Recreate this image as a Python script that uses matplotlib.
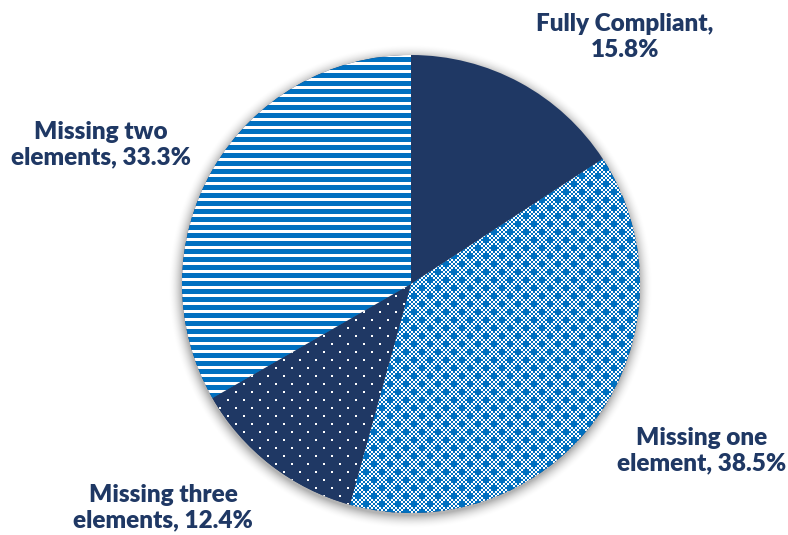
import numpy as np
import matplotlib
matplotlib.use("Agg")
import matplotlib.pyplot as plt

# Compliance breakdown
categories = ["Fully Compliant", "Missing one element", "Missing three elements", "Missing two elements"]
shares = [15.8, 38.5, 12.4, 33.3]
label_fmt = ["Fully Compliant,\n{:.1f}%",
             "Missing one\nelement, {:.1f}%",
             "Missing three\nelements, {:.1f}%",
             "Missing two\nelements, {:.1f}%"]

NAVY = np.array([31, 56, 100]) / 255
BLUE = np.array([0, 112, 192]) / 255
WHITE = np.ones(3)
TEXT = "#1F3864"

W, H = 788, 535
CX, CY, R = 411, 284, 229     # pie centre / radius in pixels


def px(x, y):
    # pixel position -> data coords (pie has unit radius)
    return (x - CX) / R, (CY - y) / R


yy, xx = np.mgrid[0:H, 0:W]

# horizontal stripes
stripes = np.where((((yy - 1) % 8) < 5)[..., None], BLUE, WHITE)

# white dots on navy
j = (yy - 375) // 8
dots_on = (((yy - 375) % 8) < 2) & (((xx - 267 - 8 * j) % 16) < 2)
dots = np.where(dots_on[..., None], WHITE, NAVY)

# 2px checker with small crosses
u = (xx - 469) // 2
v = (yy - 255) // 2
checker_on = ((u + v) % 2) == 0
jv = np.round(v / 4).astype(int)
dv = v - 4 * jv
du = ((u - 4 * jv + 4) % 8) - 4
cross = (np.abs(du) + np.abs(dv)) <= 1
checker = np.where((checker_on | cross)[..., None], BLUE, WHITE)

patterns = [None, checker, dots, stripes]

# soft shadow around the pie
d = np.hypot(xx - (CX - 1), yy - (CY + 2))
edge = np.clip(1 - (d - R) / 14, 0, 1)
shadow = np.zeros((H, W, 4))
shadow[..., 3] = 0.30 * edge ** 2

fig = plt.figure(figsize=(W / 100, H / 100), dpi=100)
ax = fig.add_axes([0, 0, 1, 1])
x0, y1 = px(0, 0)
x1, y0 = px(W, H)
extent = (x0, x1, y0, y1)

ax.imshow(shadow, extent=extent, interpolation="nearest", zorder=0)

wedges, _ = ax.pie(shares, colors=[NAVY] * 4, startangle=90, counterclock=False,
                   wedgeprops=dict(linewidth=0, zorder=1))

for wedge, tex in zip(wedges, patterns):
    if tex is None:
        continue
    im = ax.imshow(tex, extent=extent, interpolation="nearest", zorder=2)
    im.set_clip_path(wedge)

label_pos = [(625, 37), (702, 451), (163, 508), (101, 145)]
for fmt, v_, (lx_, ly_) in zip(label_fmt, shares, label_pos):
    tx, ty = px(lx_, ly_)
    ax.text(tx, ty, fmt.format(v_), ha="center", va="center", ma="center",
            fontsize=17.5, fontweight="heavy", family="Lato", color=TEXT,
            linespacing=1.2, zorder=3)

ax.set_xlim(x0, x1)
ax.set_ylim(y0, y1)
ax.set_aspect("auto")
ax.axis("off")

fig.savefig("out.png", dpi=100, facecolor="white")
